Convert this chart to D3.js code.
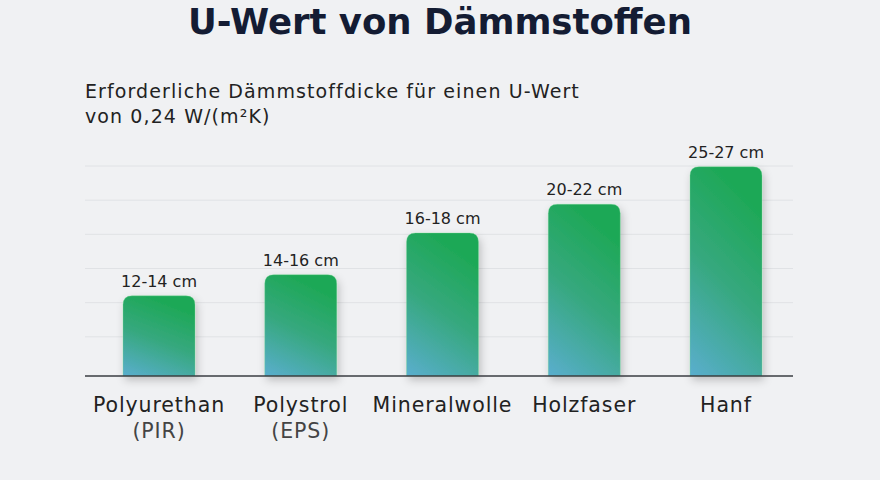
<!DOCTYPE html>
<html>
<head>
<meta charset="utf-8">
<script src="https://cdn.jsdelivr.net/npm/d3@7"></script>
<style>
  html, body { margin: 0; padding: 0; background: #f0f1f3; }
  svg { display: block; }
  text { font-family: "DejaVu Sans", "Noto Sans", sans-serif; }
</style>
</head>
<body>
<div class="chart"></div>
<script>
// data
var categories = ['Polyurethan', 'Polystrol', 'Mineralwolle', 'Holzfaser', 'Hanf'];
var subLabels = ['(PIR)', '(EPS)', '', '', ''];
var rangeLabels = ['12-14 cm', '14-16 cm', '16-18 cm', '20-22 cm', '25-27 cm'];
// bar height on the chart's (unlabelled) grid scale, 0..30
var barValues = [11.0, 14.1, 20.2, 24.4, 29.9];
var gridTicks = [5, 10, 15, 20, 25, 30];

var title = 'U-Wert von Dämmstoffen';
var subtitle = ['Erforderliche Dämmstoffdicke für einen U-Wert', 'von 0,24 W/(m²K)'];

var width = 880;
var height = 480;
var barWidth = 72;
var baseY = 376;

var svg = d3.select('.chart').append('svg')
  .attr('width', width)
  .attr('height', height);

svg.append('rect')
  .attr('width', width)
  .attr('height', height)
  .attr('fill', '#f0f1f3');

var defs = svg.append('defs');

var grad = defs.append('linearGradient')
  .attr('id', 'barGrad')
  .attr('x1', '0.35').attr('y1', '0')
  .attr('x2', '0').attr('y2', '1');
grad.append('stop').attr('offset', '0%').attr('stop-color', '#1ea857');
grad.append('stop').attr('offset', '45%').attr('stop-color', '#36a87e');
grad.append('stop').attr('offset', '100%').attr('stop-color', '#5aaece');

var shadow = defs.append('filter')
  .attr('id', 'shadow')
  .attr('x', '-30%').attr('y', '-20%')
  .attr('width', '160%').attr('height', '140%');
shadow.append('feDropShadow')
  .attr('dx', 2).attr('dy', 4)
  .attr('stdDeviation', 4)
  .attr('flood-color', '#000')
  .attr('flood-opacity', 0.22);

var x = d3.scalePoint()
  .domain(categories)
  .range([159, 726]);

var y = d3.scaleLinear()
  .domain([0, 30])
  .range([371, 166]);

// grid lines
svg.append('g')
  .selectAll('line')
  .data(gridTicks)
  .enter()
  .append('line')
  .attr('x1', 85)
  .attr('x2', 793)
  .attr('y1', function (d) { return y(d); })
  .attr('y2', function (d) { return y(d); })
  .attr('stroke', '#e0e2e5')
  .attr('stroke-width', 1);

// rounded-top bar path
function barPath(d, i) {
  var x0 = x(categories[i]) - barWidth / 2;
  var x1 = x0 + barWidth;
  var top = y(d);
  var r = 9;
  return 'M' + x0 + ',' + baseY +
    'V' + (top + r) +
    'Q' + x0 + ',' + top + ' ' + (x0 + r) + ',' + top +
    'H' + (x1 - r) +
    'Q' + x1 + ',' + top + ' ' + x1 + ',' + (top + r) +
    'V' + baseY + 'Z';
}

svg.append('g')
  .selectAll('path')
  .data(barValues)
  .enter()
  .append('path')
  .attr('d', barPath)
  .attr('fill', 'url(#barGrad)')
  .attr('stroke', 'rgba(120,220,150,0.35)')
  .attr('stroke-width', 1)
  .attr('filter', 'url(#shadow)');

// baseline
svg.append('line')
  .attr('x1', 85)
  .attr('x2', 793)
  .attr('y1', baseY)
  .attr('y2', baseY)
  .attr('stroke', '#3a3d42')
  .attr('stroke-width', 1.5);

// value labels
svg.append('g')
  .selectAll('text')
  .data(barValues)
  .enter()
  .append('text')
  .attr('x', function (d, i) { return x(categories[i]); })
  .attr('y', function (d) { return y(d) - 9; })
  .attr('text-anchor', 'middle')
  .attr('font-size', 16)
  .attr('fill', '#222')
  .text(function (d, i) { return rangeLabels[i]; });

// category labels
var cat = svg.append('g')
  .selectAll('text')
  .data(categories)
  .enter()
  .append('text')
  .attr('x', function (d) { return x(d); })
  .attr('y', 412)
  .attr('text-anchor', 'middle')
  .attr('font-size', 20.5)
  .attr('letter-spacing', 0.9)
  .attr('fill', '#222');

cat.append('tspan')
  .text(function (d) { return d; });

cat.append('tspan')
  .attr('x', function (d) { return x(d); })
  .attr('dy', 26)
  .attr('fill', '#444')
  .text(function (d, i) { return subLabels[i]; });

// title + subtitle
svg.append('text')
  .attr('x', 440)
  .attr('y', 34)
  .attr('text-anchor', 'middle')
  .attr('font-size', 35.5)
  .attr('font-weight', 700)
  .attr('fill', '#141c33')
  .text(title);

svg.append('g')
  .selectAll('text')
  .data(subtitle)
  .enter()
  .append('text')
  .attr('x', 85)
  .attr('y', function (d, i) { return 98 + i * 25; })
  .attr('font-size', 19)
  .attr('letter-spacing', 1.1)
  .attr('fill', '#222')
  .text(function (d) { return d; });
</script>
</body>
</html>
